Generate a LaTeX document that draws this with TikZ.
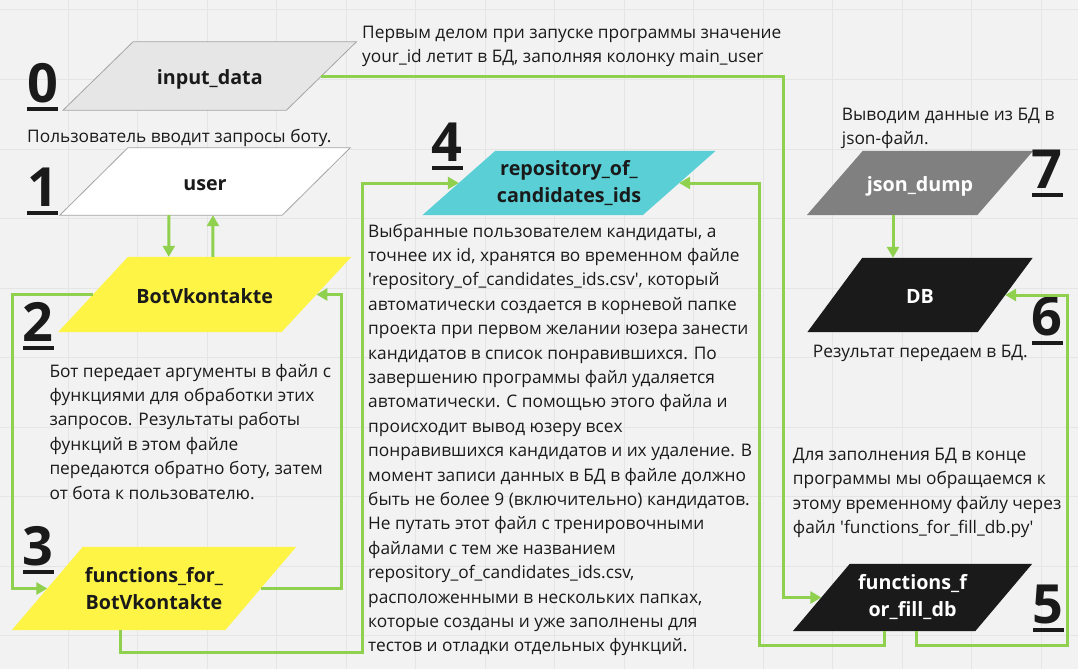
\documentclass[tikz,border=0pt]{standalone}
\usepackage{fontspec}
\setmainfont{Open Sans}
\usetikzlibrary{arrows.meta, backgrounds}
\definecolor{canvasgray}{RGB}{242,242,242}
\definecolor{gridgray}{RGB}{229,229,229}
\definecolor{inputgray}{RGB}{230,230,230}
\definecolor{edgegray}{RGB}{165,165,165}
\definecolor{stickyyellow}{RGB}{254,244,69}
\definecolor{repocyan}{RGB}{90,208,214}
\definecolor{dumpgray}{RGB}{128,128,128}
\definecolor{nearblack}{RGB}{26,26,26}
\definecolor{flowgreen}{RGB}{143,209,79}
\newcommand\notefont{\fontsize{17.3}{24.4}\selectfont}
\newcommand\labelfont{\fontsize{19.7}{27}\selectfont\bfseries}
\newcommand\numfont{\fontsize{54}{54}\selectfont\bfseries}
\newcommand\ulnum[1]{\setbox0\hbox{#1}\rlap{\rule[-9pt]{\wd0}{4pt}}\box0}
% parallelogram behind a named node: name, slant, style
\newcommand\parabox[3]{%
  \begin{pgfonlayer}{background}
    \path[#3] ([xshift=-#2/2]#1.south west) -- ([xshift=-#2/2]#1.south east)
      -- ([xshift=#2/2]#1.north east) -- ([xshift=#2/2]#1.north west) -- cycle;
  \end{pgfonlayer}}
\tikzset{
  para/.style={rectangle, inner sep=0pt, align=center, font=\labelfont, text=nearblack},
  darkpara/.style={para, text=white},
  oneline/.style={text height=17pt, text depth=0pt},
  inputpara/.style={fill=inputgray, draw=edgegray, line width=0.8pt},
  userpara/.style={fill=white, draw=edgegray, line width=0.8pt},
  botpara/.style={fill=stickyyellow},
  repopara/.style={fill=repocyan},
  dumppara/.style={fill=dumpgray},
  dbpara/.style={fill=nearblack},
  note/.style={anchor=north west, inner sep=0pt, align=left, font=\notefont, text=nearblack},
  stepnum/.style={anchor=base west, inner sep=0pt, font=\numfont, text=nearblack},
  gridline/.style={draw=gridgray, line width=1pt},
  flow/.style={-{Triangle[length=11pt, width=12pt]}, line width=3pt, draw=flowgreen}
}
\begin{document}
\begin{tikzpicture}[x=1pt, y=-1pt]
  \useasboundingbox (0,0) rectangle (1078,669);
  \begin{pgfonlayer}{background}
    \fill[canvasgray] (0,0) rectangle (1078,669);
    \foreach \gx in {68,137.5,...,1078} \draw[gridline] (\gx,0) -- (\gx,669);
    \foreach \gy in {10,79.5,...,669} \draw[gridline] (0,\gy) -- (1078,\gy);
  \end{pgfonlayer}

  % blocks
  \node[para, oneline, minimum width=223, minimum height=68] (inp) at (209.75,76) {input\_data};
  \parabox{inp}{70}{inputpara}
  \node[para, oneline, minimum width=222, minimum height=67] (user) at (205,181.5) {user};
  \parabox{user}{68}{userpara}
  \node[para, oneline, minimum width=223, minimum height=75] (bot) at (204.75,294.5) {BotVkontakte};
  \parabox{bot}{70}{botpara}
  \node[para, minimum width=213, minimum height=83] (func) at (154,588.5) {functions\_for\_\\BotVkontakte};
  \parabox{func}{71}{botpara}
  \node[para, minimum width=220, minimum height=64] (repo) at (569,183) {repository\_of\_\\candidates\_ids};
  \parabox{repo}{73}{repopara}
  \node[darkpara, oneline, minimum width=170, minimum height=64] (json) at (920,183) {json\_dump};
  \parabox{json}{56}{dumppara}
  \node[darkpara, oneline, minimum width=170, minimum height=74] (db) at (920,295) {DB};
  \parabox{db}{55}{dbpara}
  \node[darkpara, minimum width=182, minimum height=67] (fill) at (912.5,597.5) {functions\_f\\or\_fill\_db};
  \parabox{fill}{57}{dbpara}

  % step numbers
  \node[stepnum] (n0) at (27,102) {\ulnum{0}};
  \node[stepnum] (n1) at (27,206) {\ulnum{1}};
  \node[stepnum] (n2) at (22.7,341) {\ulnum{2}};
  \node[stepnum] (n3) at (22.7,565) {\ulnum{3}};
  \node[stepnum] (n4) at (431.7,161) {\ulnum{4}};
  \node[stepnum] (n5) at (1032.7,623) {\ulnum{5}};
  \node[stepnum] (n6) at (1031.7,335.7) {\ulnum{6}};
  \node[stepnum] (n7) at (1031.7,188) {\ulnum{7}};

  % notes
  \node[note] (t0) at (362,26) {Первым делом при запуске программы значение\\your\_id летит в БД, заполняя колонку main\_user};
  \node[note] (t1) at (27,128.7) {Пользователь вводит запросы боту.};
  \node[note] (t2) at (49.3,363.7) {Бот передает аргументы в файл с\\функциями для обработки этих\\запросов. Результаты работы\\функций в этом файле\\передаются обратно боту, затем\\от бота к пользователю.};
  \node[note] (t4) at (368,223.7) {Выбранные пользователем кандидаты, а\\точнее их id, хранятся во временном файле\\\textquotesingle repository\_of\_candidates\_ids.csv\textquotesingle, который\\автоматически создается в корневой папке\\проекта при первом желании юзера занести\\кандидатов в список понравившихся. По\\завершению программы файл удаляется\\автоматически. С помощью этого файла и\\происходит вывод юзеру всех\\понравившихся кандидатов и их удаление. В\\момент записи данных в БД в файле должно\\быть не более 9 (включительно) кандидатов.\\Не путать этот файл с тренировочными\\файлами с тем же названием\\repository\_of\_candidates\_ids.csv,\\расположенными в нескольких папках,\\которые созданы и уже заполнены для\\тестов и отладки отдельных функций.};
  \node[note] (t5) at (792.7,447.7) {Для заполнения БД в конце\\программы мы обращаемся к\\этому временному файлу через\\файл \textquotesingle functions\_for\_fill\_db.py\textquotesingle};
  \node[note] (t6) at (812.7,345.3) {Результат передаем в БД.};
  \node[note] (t7) at (841.7,107.7) {Выводим данные из БД в\\json-файл.};

  % connectors
  \draw[flow] (inp.east) -| ([xshift=-38]fill.west) -- (fill.west);
  \draw[flow] ([xshift=-36]user.south) -- ([xshift=-36]bot.north);
  \draw[flow] ([xshift=8]bot.north) -- ([xshift=8]user.south);
  \draw[flow] (bot.west) -- ++(-81,0) |- (func.west);
  \draw[flow] (func.east) -- ++(81,0) |- (bot.east);
  \draw[flow] ([xshift=-34]func.south) -- ++(0,22) -| ([xshift=-96]repo.west) -- (repo.west);
  \draw[flow] ([xshift=-28]fill.south) -- ++(0,14) -| ([xshift=80]repo.east) -- (repo.east);
  \draw[flow] ([xshift=4]fill.south) -- ++(0,14) -| ([xshift=62]db.east) -- (db.east);
  \draw[flow] ([xshift=-27]json.south) -- ([xshift=-27]db.north);
\end{tikzpicture}
\end{document}
